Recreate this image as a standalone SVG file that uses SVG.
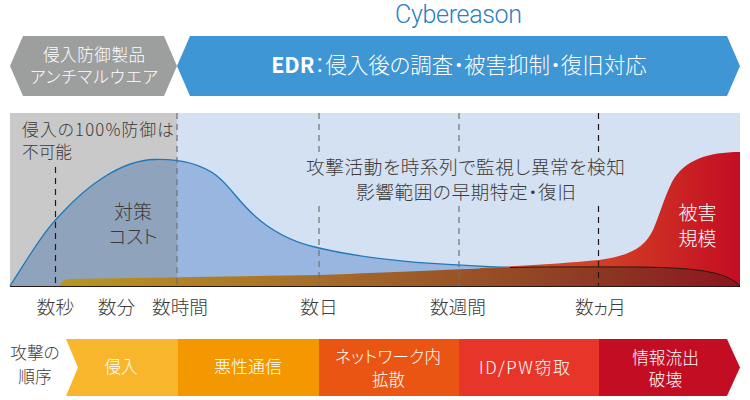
<svg xmlns="http://www.w3.org/2000/svg" width="750" height="400" viewBox="0 0 750 400">
<style>
text{font-family:"Noto Sans CJK JP","Noto Sans",sans-serif;text-anchor:middle;font-size:18px;fill:#3e3a39;font-weight:300;font-feature-settings:"palt"}
.w{fill:#fff}
.dash{stroke:#231815;stroke-width:1.200;stroke-dasharray:6 5;fill:none}
.dg{stroke:#6f6f72}
</style>
<defs>
<linearGradient id="band" gradientUnits="userSpaceOnUse" x1="60" y1="0" x2="740" y2="0">
<stop offset="0" stop-color="#b8961f"/><stop offset=".35" stop-color="#a8702a"/><stop offset=".65" stop-color="#954c26"/><stop offset=".85" stop-color="#8a2f22"/><stop offset="1" stop-color="#8e1420"/>
</linearGradient>
<linearGradient id="harm" gradientUnits="userSpaceOnUse" x1="480" y1="0" x2="740" y2="0">
<stop offset="0" stop-color="#d9551f"/><stop offset=".5" stop-color="#d23c24"/><stop offset="1" stop-color="#c30d23"/>
</linearGradient>
</defs>
<g id="title"><text x="458.500" y="23" style="font-size:25px;fill:#2a80c4;font-family:Roboto,'Noto Sans',sans-serif" textLength="127">Cybereason</text></g>
<g id="antimalware">
<polygon points="23,36 164,36 177,66 164,96 23,96 10,66" fill="#9d9e9e"/>
<text class="w" x="94" y="60.500" style="font-size:16.500px" textLength="102">侵入防御製品</text>
<text class="w" x="94" y="83" style="font-size:16.500px" textLength="128">アンチマルウエア</text>
</g>
<g id="edr">
<polygon points="190,36 727,36 740,66 727,96 190,96 177,66" fill="#3f96d4"/>
<text class="w" x="459" y="73" style="font-size:21.500px"><tspan font-weight="700">EDR</tspan><tspan>：侵入後の調査・被害抑制・復旧対応</tspan></text>
</g>
<g id="chart">
<rect x="10" y="113" width="167" height="173" fill="#c9c9ca"/>
<rect x="177" y="113" width="563" height="173" fill="#d4e1f2"/>
<path d="M10,286 C30,255 43,232 62,213 C85,188 120,160 155,159.500 C180,159 200,163 217,176 C232,188 240,205 262,222 C280,236 300,244 319,248 C370,260 430,265 530,268 L530,286 Z" fill="#98b6e0"/>
<path d="M10,286 C30,255 43,232 62,213 C85,188 120,160 155,159.500 L177,160 L177,286 Z" fill="#8fa3bd"/>
<path d="M10,286 C30,255 43,232 62,213 C85,188 120,160 155,159.500 C180,159 200,163 217,176 C232,188 240,205 262,222 C280,236 300,244 319,248 C370,260 430,265 530,268" fill="none" stroke="#1f78b9" stroke-width="1.300"/>
<path d="M480,268 C520,266 570,263 599,260 C630,256 645,247 653,230 C660,214 664,198 672,182 C684,160 708,152 740,152 L740,286 L480,286 Z" fill="url(#harm)"/>
<path d="M60,286 C61,281 65,279 70,279 L319,275 C400,272 460,269 510,267.500 C560,266.500 610,267 640,267 C690,268 725,270 740,286 Z" fill="url(#band)"/>
<path d="M510,267.500 C560,266.500 610,267 640,267 C690,268 725,270 740,286" fill="none" stroke="#231815" stroke-width="1"/>
<line x1="10" y1="286.500" x2="740" y2="286.500" stroke="#231815" stroke-width="1.200"/>
</g>
<g id="connectors">
<path class="dash" d="M55.500,167V286"/>
<path class="dash dg" d="M177,113V286"/>
<path class="dash dg" d="M319,113V152"/>
<path class="dash dg" d="M319,206V286"/>
<path class="dash dg" d="M459,113V152"/>
<path class="dash dg" d="M459,206V286"/>
<path class="dash" d="M598.500,113V152"/>
<path class="dash" d="M598.500,206V286"/>
</g>
<g id="notes">
<text x="98" y="136" style="font-size:16.700px" textLength="152">侵入の100%防御は</text>
<text x="47" y="158" style="font-size:16.700px" textLength="50">不可能</text>
<text x="465.500" y="173.500" style="font-size:18.700px" textLength="319">攻撃活動を時系列で監視し異常を検知</text>
<text x="466" y="198.500" style="font-size:18.700px" textLength="220">影響範囲の早期特定・復旧</text>
<text x="133" y="219" style="font-size:19px">対策</text>
<text x="133" y="244" style="font-size:19px" textLength="49">コスト</text>
<text class="w" x="697.500" y="220" style="font-size:19px">被害</text>
<text class="w" x="697.500" y="246" style="font-size:19px">規模</text>
</g>
<g id="time-axis">
<text x="55.500" y="314" style="font-size:18.700px">数秒</text>
<text x="116.500" y="314" style="font-size:18.700px">数分</text>
<text x="180" y="314" style="font-size:18.700px">数時間</text>
<text x="319" y="314" style="font-size:18.700px">数日</text>
<text x="458" y="314" style="font-size:18.700px">数週間</text>
<text x="600.500" y="314" style="font-size:18.700px" textLength="51">数ヵ月</text>
</g>
<g id="attack-label">
<text x="35" y="359" style="font-size:16.700px">攻撃の</text>
<text x="35" y="383" style="font-size:16.700px">順序</text>
</g>
<g id="step-1"><polygon points="66,339 178,339 178,396 66,396 78,367.500" fill="#f8b62d"/><text class="w" x="121" y="373" style="font-size:16.500px">侵入</text></g>
<g id="step-2"><rect x="178" y="339" width="141" height="57" fill="#f39800"/><text class="w" x="248" y="373" style="font-size:17px">悪性通信</text></g>
<g id="step-3"><rect x="319" y="339" width="140" height="57" fill="#ea5514"/><text class="w" x="388" y="363" style="font-size:16.500px" textLength="106">ネットワーク内</text><text class="w" x="388.500" y="386" style="font-size:16.500px">拡散</text></g>
<g id="step-4"><rect x="459" y="339" width="140" height="57" fill="#e8352a"/><text class="w" x="524.500" y="374" style="font-size:17px" textLength="91">ID/PW窃取</text></g>
<g id="step-5"><polygon points="599,339 727,339 740,367.500 727,396 599,396" fill="#c30d23"/><text class="w" x="665.500" y="364" style="font-size:16.700px">情報流出</text><text class="w" x="665.500" y="386" style="font-size:16.700px">破壊</text></g>
</svg>
